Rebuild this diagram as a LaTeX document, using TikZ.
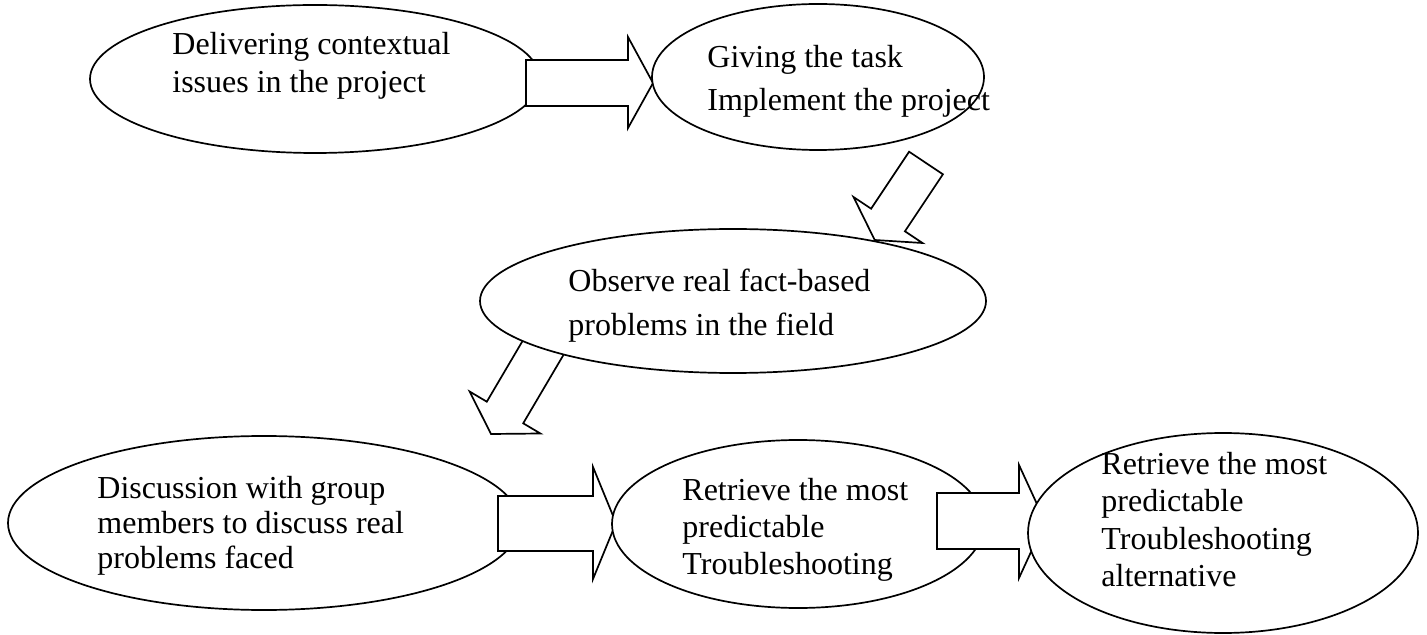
\documentclass[tikz,border=0pt]{standalone}
\usepackage{fontspec}
\setmainfont{Liberation Serif}
\usetikzlibrary{shapes.geometric}
\begin{document}
\begin{tikzpicture}[x=0.5pt,y=-0.5pt,
  ell/.style={ellipse, draw=black, fill=white, inner sep=0pt, line width=0.85pt},
  blk/.style={draw=black, fill=white, line width=0.85pt, line join=miter},
  txt/.style={inner sep=0pt, anchor=north west, align=left}]
\useasboundingbox (0,0) rectangle (1427,635);
% top row
\node[ell, minimum width=225pt, minimum height=74pt] (e1) at (315,79) {};
\draw[blk] (526,60) -- (628,60) -- (628,37) -- (653,83) -- (628,128) -- (628,106) -- (526,106) -- cycle;
\node[ell, minimum width=166pt, minimum height=73pt] (e2) at (818,77) {};
% diagonal arrows
\draw[blk] (909.1,151.7) -- (942.9,174.3) -- (904.9,231.3) -- (922.5,243) -- (874.7,240) -- (853.5,197) -- (871.1,208.7) -- cycle;
\draw[blk] (531.5,325.8) -- (567.9,347.4) -- (523.2,423.3) -- (540.4,433.5) -- (491,434) -- (469.6,391.5) -- (486.8,401.7) -- cycle;
\node[ell, minimum width=253pt, minimum height=72pt] (e3) at (733,301) {};
% bottom row
\node[ell, minimum width=256pt, minimum height=87pt] (e4) at (264,523) {};
\draw[blk] (498,496) -- (593,496) -- (593,467) -- (616,523) -- (593,579) -- (593,551) -- (498,551) -- cycle;
\node[ell, minimum width=186pt, minimum height=84pt] (e5) at (798,524) {};
\draw[blk] (937,493) -- (1019,493) -- (1019,465) -- (1045,521.5) -- (1019,578) -- (1019,549) -- (937,549) -- cycle;
\node[ell, minimum width=195pt, minimum height=100pt] (e6) at (1223,533) {};
% texts
\node[txt, font=\fontsize{16pt}{19pt}\selectfont] (t1) at (172,32) {Delivering contextual\\issues in the project};
\node[txt, font=\fontsize{16pt}{21.5pt}\selectfont] (t2) at (707,45) {Giving the task\\Implement the project};
\node[txt, font=\fontsize{16pt}{22pt}\selectfont] (t3) at (568,269) {Observe real fact-based\\problems in the field};
\node[txt, font=\fontsize{16pt}{17.5pt}\selectfont] (t4) at (97,476) {Discussion with group\\members to discuss real\\problems faced};
\node[txt, font=\fontsize{16pt}{18.5pt}\selectfont] (t5) at (682,478) {Retrieve the most\\predictable\\Troubleshooting};
\node[txt, font=\fontsize{16pt}{18.6pt}\selectfont] (t6) at (1101,452) {Retrieve the most\\predictable\\Troubleshooting\\alternative};
\end{tikzpicture}
\end{document}
